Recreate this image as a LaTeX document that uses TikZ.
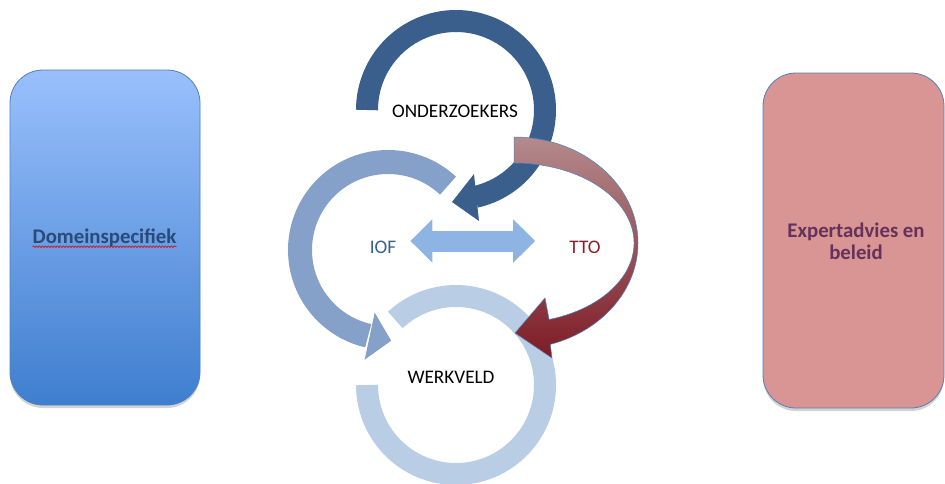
\documentclass[tikz,border=0pt]{standalone}
\usepackage{fontspec}
\setmainfont{Carlito}
\usetikzlibrary{arrows.meta,shadows,decorations.pathmorphing}

\definecolor{ozblauw}{RGB}{58,95,140}
\definecolor{iofblauw}{RGB}{134,161,201}
\definecolor{wvblauw}{RGB}{185,205,229}
\definecolor{pijlblauw}{RGB}{141,180,226}
\definecolor{randblauw}{RGB}{79,129,189}
\definecolor{domeinboven}{RGB}{153,192,252}
\definecolor{domeinonder}{RGB}{63,126,207}
\definecolor{expertrood}{RGB}{217,149,148}
\definecolor{ttolicht}{RGB}{179,139,141}
\definecolor{ttomidden}{RGB}{165,100,106}
\definecolor{ttodonker}{RGB}{126,27,37}
\definecolor{iofkleur}{RGB}{54,96,146}
\definecolor{ttokleur}{RGB}{140,30,40}
\definecolor{domeinkleur}{RGB}{40,75,120}
\definecolor{expertkleur}{RGB}{100,50,90}

\begin{document}
\begin{tikzpicture}[x=1pt,y=-1pt,
    vak/.style={rounded corners=33pt, draw=randblauw, line width=0.8pt,
        minimum width=190pt, minimum height=335pt,
        drop shadow={opacity=0.35, shadow xshift=0pt, shadow yshift=-3pt}},
    kring/.style={font=\fontsize{19.2}{22}\selectfont, inner sep=0pt},
    vaktekst/.style={font=\fontsize{20.8}{22}\selectfont\bfseries, align=center, inner sep=0pt}]
    \useasboundingbox (0,0) rectangle (945,483);

    % Zijvakken
    \node[vak, top color=domeinboven, bottom color=domeinonder] (domeinvak) at (105,237.5) {};
    \node[vak, fill=expertrood, minimum width=181pt] (expertvak) at (853.5,240.5) {};
    \node[vaktekst, text=domeinkleur] (domein) at (104.5,238) {Domeinspecifiek};
    \node[vaktekst, text=expertkleur] (expert) at (856,241) {Expertadvies en\\beleid};
    \draw[red!85!black, line width=0.6pt, decorate, decoration={snake, amplitude=0.8pt, segment length=3pt}]
        ([yshift=-3pt]domein.base west) -- ([yshift=-3pt]domein.base east);

    % Werkveld-kring (onderaan)
    \draw[wvblauw, line width=22pt] ([shift={(180:89)}]456,385) arc[start angle=180, end angle=-133, radius=89];

    % IOF-kring met pijlpunt
    \draw[iofblauw, line width=24pt] ([shift={(-47:88)}]388,250) arc[start angle=-47, end angle=-257, radius=88];
    \fill[iofblauw] (374.7,312.6) -- (391.2,340.7) -- (364.7,359.6) -- cycle;

    % Onderzoekers-kring met pijlpunt
    \draw[ozblauw, line width=22pt] ([shift={(180:89)}]456,110) arc[start angle=180, end angle=437.5, radius=89];
    \fill[ozblauw] (474,174) -- (452,202) -- (479,221) -- cycle;

    % TTO-pijl (gebogen, verloop)
    \shade[top color=ttolicht, middle color=ttomidden, bottom color=ttodonker, draw=randblauw, line width=0.5pt]
        (514,137) arc[start angle=-90, end angle=73, x radius=124, y radius=106]
        -- (552,358) -- (515,333) -- (545,298) -- (549.1,319.5)
        arc[start angle=73, end angle=-90, x radius=120, y radius=80] -- cycle;

    % Teksten
    \node[kring] (onderzoekers) at (455,111) {ONDERZOEKERS};
    \node[kring] (werkveld) at (451,377) {WERKVELD};
    \node[kring, text=iofkleur] (iof) at (383,247) {IOF};
    \node[kring, text=ttokleur] (tto) at (585,247) {TTO};

    % Dubbele pijl tussen IOF en TTO
    \draw[pijlblauw, line width=21pt, {Triangle[width=42pt,length=22pt]}-{Triangle[width=42pt,length=22pt]},
        shorten <=14pt, shorten >=34pt] ([yshift=6pt]iof.east) -- ([yshift=6pt]tto.west);
\end{tikzpicture}
\end{document}
